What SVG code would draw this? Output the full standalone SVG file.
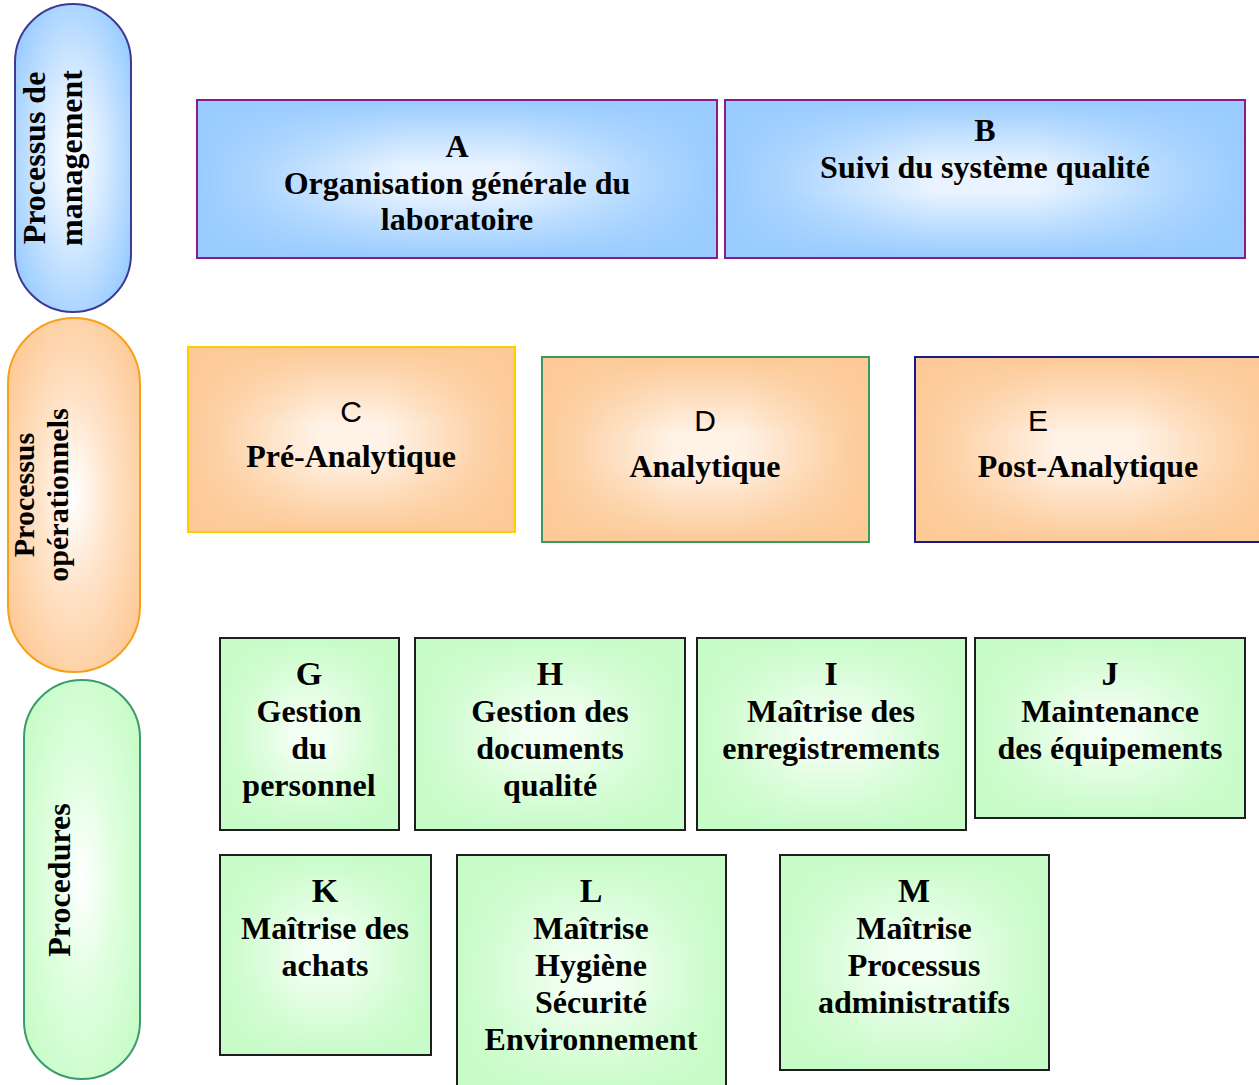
<svg xmlns="http://www.w3.org/2000/svg" width="1259" height="1085" viewBox="0 0 1259 1085">
  <defs>
    <!-- pill fills: radial glow from the centre -->
    <radialGradient id="pBlue" cx="0.5" cy="0.5" r="0.6">
      <stop offset="0" stop-color="#ffffff"/>
      <stop offset="0.45" stop-color="#d6eaff"/>
      <stop offset="1" stop-color="#99ccff"/>
    </radialGradient>
    <radialGradient id="pOrange" cx="0.5" cy="0.5" r="0.6">
      <stop offset="0" stop-color="#ffffff"/>
      <stop offset="0.45" stop-color="#ffe3c8"/>
      <stop offset="1" stop-color="#fdca97"/>
    </radialGradient>
    <radialGradient id="pGreen" cx="0.5" cy="0.5" r="0.6">
      <stop offset="0" stop-color="#ffffff"/>
      <stop offset="0.45" stop-color="#e0ffe0"/>
      <stop offset="1" stop-color="#c8fcc8"/>
    </radialGradient>

    <!-- box fills: rectangular "from centre" glow = vertical band x horizontal mask -->
    <linearGradient id="vBlue" x1="0" y1="0" x2="0" y2="1">
      <stop offset="0" stop-color="#f2f8ff" stop-opacity="0"/>
      <stop offset="0.42" stop-color="#f2f8ff" stop-opacity="0.9"/>
      <stop offset="0.58" stop-color="#f2f8ff" stop-opacity="0.9"/>
      <stop offset="1" stop-color="#f2f8ff" stop-opacity="0"/>
    </linearGradient>
    <linearGradient id="vOrange" x1="0" y1="0" x2="0" y2="1">
      <stop offset="0" stop-color="#fff6ee" stop-opacity="0"/>
      <stop offset="0.42" stop-color="#fff6ee" stop-opacity="0.92"/>
      <stop offset="0.58" stop-color="#fff6ee" stop-opacity="0.92"/>
      <stop offset="1" stop-color="#fff6ee" stop-opacity="0"/>
    </linearGradient>
    <linearGradient id="vGreen" x1="0" y1="0" x2="0" y2="1">
      <stop offset="0" stop-color="#f6fff6" stop-opacity="0"/>
      <stop offset="0.42" stop-color="#f6fff6" stop-opacity="0.9"/>
      <stop offset="0.58" stop-color="#f6fff6" stop-opacity="0.9"/>
      <stop offset="1" stop-color="#f6fff6" stop-opacity="0"/>
    </linearGradient>
    <linearGradient id="hFade" x1="0" y1="0" x2="1" y2="0">
      <stop offset="0" stop-color="#000"/>
      <stop offset="0.12" stop-color="#444"/>
      <stop offset="0.4" stop-color="#fff"/>
      <stop offset="0.6" stop-color="#fff"/>
      <stop offset="0.88" stop-color="#444"/>
      <stop offset="1" stop-color="#000"/>
    </linearGradient>
    <mask id="glowMask" maskUnits="objectBoundingBox" maskContentUnits="objectBoundingBox" x="0" y="0" width="1" height="1">
      <rect x="0" y="0" width="1" height="1" fill="url(#hFade)"/>
    </mask>
  </defs>
  <style>
    .t { font-family: "Liberation Serif", "Times New Roman", serif; font-weight: bold; font-size: 32px; fill: #000; text-anchor: middle; }
    .ltr { font-size: 34px; }
    .sans { font-family: "Liberation Sans", Arial, sans-serif; font-weight: normal; font-size: 30px; }
    .blue { fill: #99ccff; }
    .orange { fill: #fdca97; }
    .green { fill: #c8fcc8; stroke: #1e1e1e; stroke-width: 2; }
    .gb { fill: url(#vBlue); mask: url(#glowMask); }
    .go { fill: url(#vOrange); mask: url(#glowMask); }
    .gg { fill: url(#vGreen); mask: url(#glowMask); }
  </style>

  <!-- Row labels (rounded side bands) -->
  <g id="band-management">
    <rect x="15" y="4" width="116" height="308" rx="58" ry="58" fill="url(#pBlue)" stroke="#3b3b96" stroke-width="2"/>
    <text class="t" transform="translate(45,158) rotate(-90)">Processus de<tspan x="0" dy="37">management</tspan></text>
  </g>
  <g id="band-operationnels">
    <rect x="8" y="318" width="132" height="354" rx="66" ry="66" fill="url(#pOrange)" stroke="#f7a11a" stroke-width="2"/>
    <text class="t" style="font-size:30px" transform="translate(34,495) rotate(-90)">Processus<tspan x="0" dy="34">opérationnels</tspan></text>
  </g>
  <g id="band-procedures">
    <rect x="24" y="680" width="116" height="399" rx="58" ry="58" fill="url(#pGreen)" stroke="#3d9a6c" stroke-width="2"/>
    <text class="t" transform="translate(70,880) rotate(-90)">Procedures</text>
  </g>

  <!-- Management processes -->
  <g id="node-A">
    <rect x="197" y="100" width="520" height="158" class="blue" stroke="#8a1a8a" stroke-width="2"/>
    <rect x="198" y="101" width="518" height="156" class="gb"/>
    <text class="t" x="457" y="157">A</text>
    <text class="t" x="457" y="194">Organisation générale du</text>
    <text class="t" x="457" y="230">laboratoire</text>
  </g>
  <g id="node-B">
    <rect x="725" y="100" width="520" height="158" class="blue" stroke="#8a1a8a" stroke-width="2"/>
    <rect x="726" y="101" width="518" height="156" class="gb"/>
    <text class="t" x="985" y="141">B</text>
    <text class="t" x="985" y="178">Suivi du système qualité</text>
  </g>

  <!-- Operational processes -->
  <g id="node-C">
    <rect x="188" y="347" width="327" height="185" class="orange" stroke="#ffcc00" stroke-width="2"/>
    <rect x="189" y="348" width="325" height="183" class="go"/>
    <text class="t sans" x="351" y="422">C</text>
    <text class="t" x="351" y="467">Pré-Analytique</text>
  </g>
  <g id="node-D">
    <rect x="542" y="357" width="327" height="185" class="orange" stroke="#3a9a5c" stroke-width="2"/>
    <rect x="543" y="358" width="325" height="183" class="go"/>
    <text class="t sans" x="705" y="431">D</text>
    <text class="t" x="705" y="477">Analytique</text>
  </g>
  <g id="node-E">
    <rect x="915" y="357" width="360" height="185" class="orange" stroke="#1a1a88" stroke-width="2"/>
    <rect x="916" y="358" width="358" height="183" class="go"/>
    <text class="t sans" x="1038" y="431">E</text>
    <text class="t" x="1088" y="477">Post-Analytique</text>
  </g>

  <!-- Procedures -->
  <g id="node-G">
    <rect x="220" y="638" width="179" height="192" class="green"/>
    <rect x="221" y="639" width="177" height="190" class="gg"/>
    <text class="t ltr" x="309" y="685">G</text>
    <text class="t" x="309" y="722">Gestion</text>
    <text class="t" x="309" y="759">du</text>
    <text class="t" x="309" y="796">personnel</text>
  </g>
  <g id="node-H">
    <rect x="415" y="638" width="270" height="192" class="green"/>
    <rect x="416" y="639" width="268" height="190" class="gg"/>
    <text class="t ltr" x="550" y="685">H</text>
    <text class="t" x="550" y="722">Gestion des</text>
    <text class="t" x="550" y="759">documents</text>
    <text class="t" x="550" y="796">qualité</text>
  </g>
  <g id="node-I">
    <rect x="697" y="638" width="269" height="192" class="green"/>
    <rect x="698" y="639" width="267" height="190" class="gg"/>
    <text class="t ltr" x="831" y="685">I</text>
    <text class="t" x="831" y="722">Maîtrise des</text>
    <text class="t" x="831" y="759">enregistrements</text>
  </g>
  <g id="node-J">
    <rect x="975" y="638" width="270" height="180" class="green"/>
    <rect x="976" y="639" width="268" height="178" class="gg"/>
    <text class="t ltr" x="1110" y="685">J</text>
    <text class="t" x="1110" y="722">Maintenance</text>
    <text class="t" x="1110" y="759">des équipements</text>
  </g>
  <g id="node-K">
    <rect x="220" y="855" width="211" height="200" class="green"/>
    <rect x="221" y="856" width="209" height="198" class="gg"/>
    <text class="t ltr" x="325" y="902">K</text>
    <text class="t" x="325" y="939">Maîtrise des</text>
    <text class="t" x="325" y="976">achats</text>
  </g>
  <g id="node-L">
    <rect x="457" y="855" width="269" height="240" class="green"/>
    <rect x="458" y="856" width="267" height="238" class="gg"/>
    <text class="t ltr" x="591" y="902">L</text>
    <text class="t" x="591" y="939">Maîtrise</text>
    <text class="t" x="591" y="976">Hygiène</text>
    <text class="t" x="591" y="1013">Sécurité</text>
    <text class="t" x="591" y="1050">Environnement</text>
  </g>
  <g id="node-M">
    <rect x="780" y="855" width="269" height="215" class="green"/>
    <rect x="781" y="856" width="267" height="213" class="gg"/>
    <text class="t ltr" x="914" y="902">M</text>
    <text class="t" x="914" y="939">Maîtrise</text>
    <text class="t" x="914" y="976">Processus</text>
    <text class="t" x="914" y="1013">administratifs</text>
  </g>

  <!-- No connectors between nodes -->
  <g id="connectors"/>
</svg>
